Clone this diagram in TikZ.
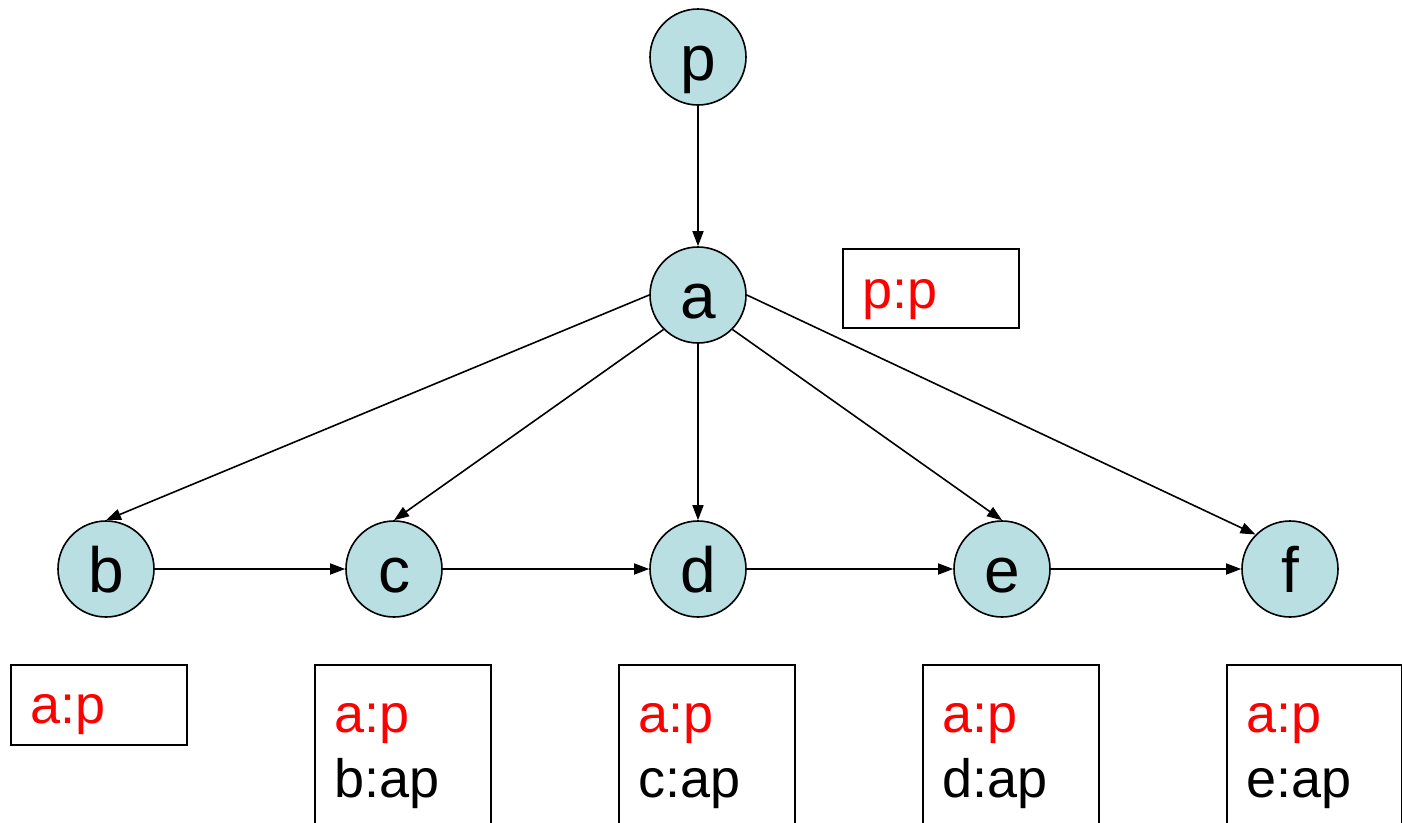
\documentclass[tikz,border=0pt]{standalone}
\usepackage{fontspec}
\setmainfont{Liberation Sans}
\usetikzlibrary{arrows.meta}
\definecolor{nodefill}{HTML}{B9DFE3}
\definecolor{redtxt}{HTML}{FF0000}
\tikzset{
  state/.style={circle,draw,line width=1.6pt,fill=nodefill,minimum size=96pt,inner sep=0pt,
    font=\fontsize{64}{64}\selectfont,text height=46pt,text depth=0pt},
  box/.style={draw,line width=2pt,minimum width=176pt,anchor=north west,inner sep=0pt},
  lbl/.style={anchor=base west,inner sep=0pt,font=\fontsize{54}{54}\selectfont},
  arr/.style={line width=1.6pt,-{Triangle[length=15pt,width=11pt]}}
}
\begin{document}
\begin{tikzpicture}[x=1pt,y=-1pt]
\clip (0,0) rectangle (1402,822);
\fill[white] (0,0) rectangle (1402,822);
% nodes
\node[state] (p) at (698,57) {p};
\node[state] (a) at (698,295) {a};
\node[state] (b) at (106,569) {b};
\node[state] (c) at (394,569) {c};
\node[state] (d) at (698,569) {d};
\node[state] (e) at (1002,569) {e};
\node[state] (f) at (1290,569) {f};
% connectors
\draw[arr] (p.south) -- (a.north);
\draw[arr] (a.west) -- (b.north);
\draw[arr] (a.south west) -- (c.north);
\draw[arr] (a.south) -- (d.north);
\draw[arr] (a.south east) -- (e.north);
\draw[arr] (a.east) -- (f.north west);
\draw[arr] (b.east) -- (c.west);
\draw[arr] (c.east) -- (d.west);
\draw[arr] (d.east) -- (e.west);
\draw[arr] (e.east) -- (f.west);
% boxes
\node[box,minimum height=79pt] (bp) at (842,248) {};
\node[lbl,text=redtxt] (tp) at (862,308) {p:p};
\node[box,minimum height=80pt] (bb) at (10,664) {};
\node[lbl,text=redtxt] (tb) at (30,723) {a:p};
\node[box,minimum height=200pt] (bc) at (314,664) {};
\node[lbl,text=redtxt] (tc1) at (334,732) {a:p};
\node[lbl] (tc2) at (334,797) {b:ap};
\node[box,minimum height=200pt] (bd) at (618,664) {};
\node[lbl,text=redtxt] (td1) at (638,732) {a:p};
\node[lbl] (td2) at (638,797) {c:ap};
\node[box,minimum height=200pt] (be) at (922,664) {};
\node[lbl,text=redtxt] (te1) at (942,732) {a:p};
\node[lbl] (te2) at (942,797) {d:ap};
\node[box,minimum height=200pt,minimum width=175pt] (bf) at (1226,664) {};
\node[lbl,text=redtxt] (tf1) at (1246,732) {a:p};
\node[lbl] (tf2) at (1246,797) {e:ap};
\end{tikzpicture}
\end{document}
